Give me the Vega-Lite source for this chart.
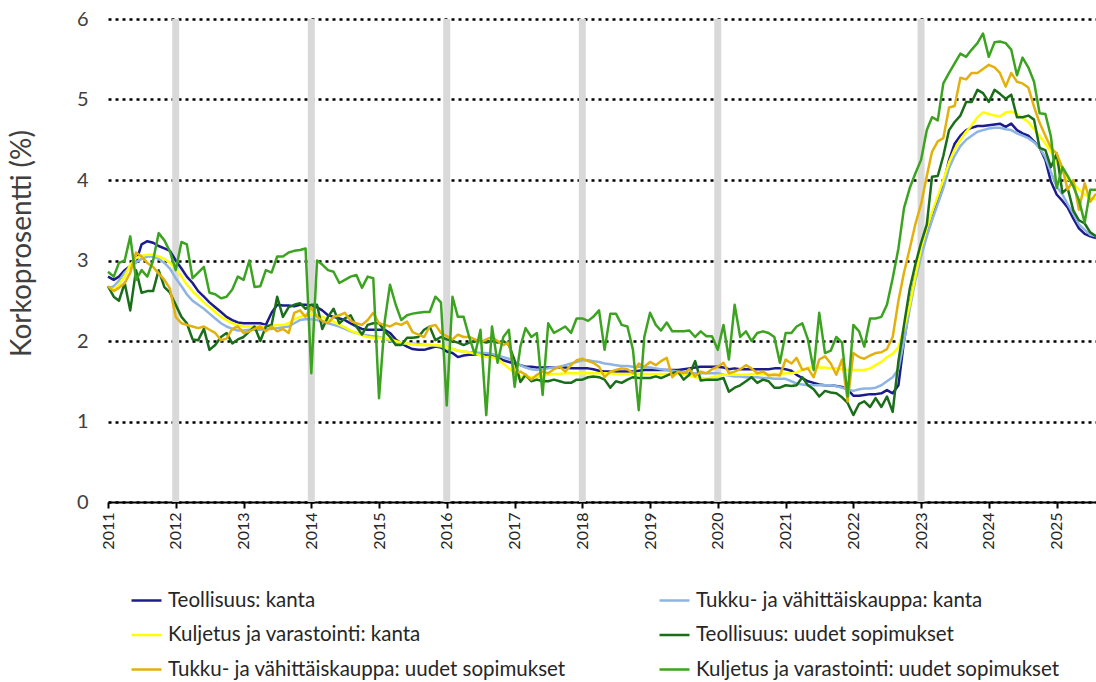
{
"$schema":"https://vega.github.io/schema/vega-lite/v6.json",
"width":988,"height":483,
"autosize":{"type":"none"},
"padding":{"left":108,"top":19,"right":0,"bottom":180},
"background":"white",
"config":{"view":{"stroke":null},"font":"Lato"},
"datasets":{
"bars":[{"t":"2012-01-01"},{"t":"2014-01-01"},{"t":"2016-01-01"},{"t":"2018-01-01"},{"t":"2020-01-01"},{"t":"2023-01-01"}],
"rates":[
{"t":"2011-01-01","a":2.80,"b":2.65,"c":2.66,"d":2.68,"e":2.68,"f":2.86},
{"t":"2011-02-01","a":2.76,"b":2.68,"c":2.64,"d":2.55,"e":2.62,"f":2.80},
{"t":"2011-03-01","a":2.80,"b":2.75,"c":2.70,"d":2.50,"e":2.66,"f":2.97},
{"t":"2011-04-01","a":2.88,"b":2.85,"c":2.80,"d":2.72,"e":2.72,"f":3.00},
{"t":"2011-05-01","a":2.93,"b":2.92,"c":2.95,"d":2.38,"e":2.85,"f":3.30},
{"t":"2011-06-01","a":2.98,"b":2.98,"c":3.03,"d":2.88,"e":3.10,"f":2.76},
{"t":"2011-07-01","a":3.20,"b":3.02,"c":3.06,"d":2.60,"e":3.05,"f":2.88},
{"t":"2011-08-01","a":3.24,"b":3.05,"c":3.07,"d":2.62,"e":2.97,"f":2.80},
{"t":"2011-09-01","a":3.22,"b":3.05,"c":3.07,"d":2.62,"e":2.92,"f":3.00},
{"t":"2011-10-01","a":3.18,"b":3.02,"c":3.05,"d":2.88,"e":2.84,"f":3.34},
{"t":"2011-11-01","a":3.15,"b":2.97,"c":3.02,"d":2.67,"e":2.76,"f":3.25},
{"t":"2011-12-01","a":3.12,"b":2.90,"c":2.97,"d":2.60,"e":2.65,"f":3.11},
{"t":"2012-01-01","a":3.00,"b":2.78,"c":2.90,"d":2.45,"e":2.30,"f":2.88},
{"t":"2012-02-01","a":2.90,"b":2.68,"c":2.80,"d":2.30,"e":2.22,"f":3.23},
{"t":"2012-03-01","a":2.80,"b":2.58,"c":2.70,"d":2.22,"e":2.20,"f":3.20},
{"t":"2012-04-01","a":2.72,"b":2.50,"c":2.62,"d":2.02,"e":2.18,"f":2.78},
{"t":"2012-05-01","a":2.62,"b":2.45,"c":2.55,"d":2.01,"e":2.16,"f":2.85},
{"t":"2012-06-01","a":2.55,"b":2.40,"c":2.48,"d":2.15,"e":2.18,"f":2.92},
{"t":"2012-07-01","a":2.48,"b":2.34,"c":2.42,"d":1.89,"e":2.14,"f":2.60},
{"t":"2012-08-01","a":2.42,"b":2.28,"c":2.36,"d":1.95,"e":2.10,"f":2.58},
{"t":"2012-09-01","a":2.36,"b":2.22,"c":2.30,"d":2.05,"e":2.01,"f":2.53},
{"t":"2012-10-01","a":2.30,"b":2.18,"c":2.26,"d":2.10,"e":2.03,"f":2.55},
{"t":"2012-11-01","a":2.26,"b":2.15,"c":2.22,"d":1.97,"e":2.15,"f":2.64},
{"t":"2012-12-01","a":2.23,"b":2.13,"c":2.20,"d":2.02,"e":2.18,"f":2.80},
{"t":"2013-01-01","a":2.22,"b":2.13,"c":2.18,"d":2.05,"e":2.10,"f":2.76},
{"t":"2013-02-01","a":2.22,"b":2.14,"c":2.18,"d":2.12,"e":2.12,"f":3.00},
{"t":"2013-03-01","a":2.22,"b":2.14,"c":2.18,"d":2.18,"e":2.15,"f":2.67},
{"t":"2013-04-01","a":2.22,"b":2.14,"c":2.18,"d":2.00,"e":2.18,"f":2.68},
{"t":"2013-05-01","a":2.20,"b":2.15,"c":2.18,"d":2.18,"e":2.12,"f":2.88},
{"t":"2013-06-01","a":2.35,"b":2.15,"c":2.19,"d":2.20,"e":2.18,"f":2.85},
{"t":"2013-07-01","a":2.45,"b":2.16,"c":2.20,"d":2.55,"e":2.12,"f":3.05},
{"t":"2013-08-01","a":2.44,"b":2.17,"c":2.20,"d":2.30,"e":2.15,"f":3.05},
{"t":"2013-09-01","a":2.44,"b":2.18,"c":2.22,"d":2.42,"e":2.10,"f":3.10},
{"t":"2013-10-01","a":2.43,"b":2.22,"c":2.27,"d":2.45,"e":2.35,"f":3.12},
{"t":"2013-11-01","a":2.45,"b":2.26,"c":2.30,"d":2.47,"e":2.38,"f":3.13},
{"t":"2013-12-01","a":2.45,"b":2.27,"c":2.32,"d":2.40,"e":2.30,"f":3.15},
{"t":"2014-01-01","a":2.44,"b":2.27,"c":2.34,"d":2.45,"e":2.42,"f":1.60},
{"t":"2014-02-01","a":2.42,"b":2.26,"c":2.32,"d":2.45,"e":2.30,"f":3.00},
{"t":"2014-03-01","a":2.38,"b":2.24,"c":2.30,"d":2.15,"e":2.25,"f":2.95},
{"t":"2014-04-01","a":2.32,"b":2.22,"c":2.27,"d":2.30,"e":2.22,"f":2.88},
{"t":"2014-05-01","a":2.30,"b":2.20,"c":2.24,"d":2.40,"e":2.30,"f":2.86},
{"t":"2014-06-01","a":2.28,"b":2.18,"c":2.20,"d":2.22,"e":2.32,"f":2.72},
{"t":"2014-07-01","a":2.26,"b":2.15,"c":2.17,"d":2.28,"e":2.35,"f":2.76},
{"t":"2014-08-01","a":2.22,"b":2.12,"c":2.13,"d":2.32,"e":2.25,"f":2.80},
{"t":"2014-09-01","a":2.18,"b":2.10,"c":2.10,"d":2.18,"e":2.22,"f":2.82},
{"t":"2014-10-01","a":2.15,"b":2.08,"c":2.07,"d":2.08,"e":2.20,"f":2.66},
{"t":"2014-11-01","a":2.14,"b":2.07,"c":2.05,"d":2.20,"e":2.26,"f":2.80},
{"t":"2014-12-01","a":2.14,"b":2.06,"c":2.04,"d":2.22,"e":2.35,"f":2.78},
{"t":"2015-01-01","a":2.14,"b":2.05,"c":2.04,"d":2.22,"e":2.22,"f":1.29},
{"t":"2015-02-01","a":2.14,"b":2.03,"c":2.03,"d":2.12,"e":2.20,"f":2.25},
{"t":"2015-03-01","a":2.10,"b":2.00,"c":2.02,"d":2.05,"e":2.18,"f":2.70},
{"t":"2015-04-01","a":2.02,"b":1.98,"c":2.00,"d":1.95,"e":2.22,"f":2.45},
{"t":"2015-05-01","a":1.97,"b":1.97,"c":1.98,"d":1.95,"e":2.20,"f":2.26},
{"t":"2015-06-01","a":1.93,"b":1.97,"c":1.97,"d":2.04,"e":2.24,"f":2.32},
{"t":"2015-07-01","a":1.90,"b":1.97,"c":1.96,"d":2.04,"e":2.11,"f":2.34},
{"t":"2015-08-01","a":1.89,"b":1.96,"c":1.95,"d":2.05,"e":2.08,"f":2.35},
{"t":"2015-09-01","a":1.89,"b":1.95,"c":1.95,"d":2.14,"e":2.05,"f":2.36},
{"t":"2015-10-01","a":1.91,"b":1.95,"c":1.95,"d":2.18,"e":2.18,"f":2.36},
{"t":"2015-11-01","a":1.93,"b":1.94,"c":1.95,"d":2.01,"e":2.20,"f":2.55},
{"t":"2015-12-01","a":1.92,"b":1.93,"c":1.94,"d":2.05,"e":2.10,"f":2.48},
{"t":"2016-01-01","a":1.87,"b":1.92,"c":1.92,"d":2.02,"e":2.06,"f":1.20},
{"t":"2016-02-01","a":1.85,"b":1.90,"c":1.90,"d":2.00,"e":2.02,"f":2.55},
{"t":"2016-03-01","a":1.80,"b":1.88,"c":1.88,"d":1.98,"e":2.08,"f":2.30},
{"t":"2016-04-01","a":1.82,"b":1.87,"c":1.87,"d":1.95,"e":2.05,"f":2.30},
{"t":"2016-05-01","a":1.83,"b":1.86,"c":1.86,"d":1.98,"e":2.05,"f":2.05},
{"t":"2016-06-01","a":1.83,"b":1.86,"c":1.84,"d":2.00,"e":2.02,"f":1.83},
{"t":"2016-07-01","a":1.83,"b":1.85,"c":1.82,"d":2.00,"e":1.98,"f":2.14},
{"t":"2016-08-01","a":1.83,"b":1.85,"c":1.80,"d":1.98,"e":2.02,"f":1.08},
{"t":"2016-09-01","a":1.82,"b":1.84,"c":1.80,"d":2.00,"e":2.05,"f":2.18},
{"t":"2016-10-01","a":1.80,"b":1.82,"c":1.78,"d":1.98,"e":2.00,"f":1.73},
{"t":"2016-11-01","a":1.76,"b":1.80,"c":1.72,"d":2.00,"e":1.95,"f":2.05},
{"t":"2016-12-01","a":1.74,"b":1.78,"c":1.66,"d":1.95,"e":1.98,"f":2.14},
{"t":"2017-01-01","a":1.72,"b":1.74,"c":1.60,"d":1.76,"e":1.60,"f":1.43},
{"t":"2017-02-01","a":1.70,"b":1.70,"c":1.56,"d":1.49,"e":1.62,"f":1.93},
{"t":"2017-03-01","a":1.68,"b":1.67,"c":1.55,"d":1.58,"e":1.58,"f":2.16},
{"t":"2017-04-01","a":1.68,"b":1.65,"c":1.55,"d":1.50,"e":1.52,"f":2.05},
{"t":"2017-05-01","a":1.67,"b":1.64,"c":1.55,"d":1.52,"e":1.58,"f":2.10},
{"t":"2017-06-01","a":1.67,"b":1.65,"c":1.57,"d":1.50,"e":1.62,"f":1.33},
{"t":"2017-07-01","a":1.67,"b":1.66,"c":1.58,"d":1.50,"e":1.60,"f":2.22},
{"t":"2017-08-01","a":1.67,"b":1.67,"c":1.59,"d":1.52,"e":1.65,"f":2.10},
{"t":"2017-09-01","a":1.67,"b":1.68,"c":1.59,"d":1.50,"e":1.68,"f":2.14},
{"t":"2017-10-01","a":1.67,"b":1.70,"c":1.60,"d":1.48,"e":1.62,"f":2.18},
{"t":"2017-11-01","a":1.66,"b":1.72,"c":1.60,"d":1.48,"e":1.70,"f":2.10},
{"t":"2017-12-01","a":1.66,"b":1.74,"c":1.60,"d":1.52,"e":1.76,"f":2.28},
{"t":"2018-01-01","a":1.66,"b":1.76,"c":1.60,"d":1.52,"e":1.78,"f":2.28},
{"t":"2018-02-01","a":1.66,"b":1.76,"c":1.60,"d":1.55,"e":1.75,"f":2.25},
{"t":"2018-03-01","a":1.65,"b":1.75,"c":1.60,"d":1.56,"e":1.73,"f":2.30},
{"t":"2018-04-01","a":1.63,"b":1.74,"c":1.60,"d":1.55,"e":1.68,"f":2.38},
{"t":"2018-05-01","a":1.62,"b":1.72,"c":1.60,"d":1.52,"e":1.55,"f":1.89},
{"t":"2018-06-01","a":1.62,"b":1.71,"c":1.60,"d":1.42,"e":1.62,"f":2.34},
{"t":"2018-07-01","a":1.62,"b":1.70,"c":1.59,"d":1.50,"e":1.64,"f":2.34},
{"t":"2018-08-01","a":1.62,"b":1.69,"c":1.59,"d":1.48,"e":1.66,"f":2.20},
{"t":"2018-09-01","a":1.62,"b":1.69,"c":1.59,"d":1.52,"e":1.65,"f":2.18},
{"t":"2018-10-01","a":1.62,"b":1.68,"c":1.59,"d":1.55,"e":1.60,"f":1.89},
{"t":"2018-11-01","a":1.63,"b":1.68,"c":1.59,"d":1.54,"e":1.72,"f":1.14},
{"t":"2018-12-01","a":1.64,"b":1.67,"c":1.59,"d":1.54,"e":1.68,"f":2.05},
{"t":"2019-01-01","a":1.64,"b":1.67,"c":1.59,"d":1.54,"e":1.74,"f":2.35},
{"t":"2019-02-01","a":1.64,"b":1.66,"c":1.59,"d":1.56,"e":1.70,"f":2.20},
{"t":"2019-03-01","a":1.64,"b":1.65,"c":1.59,"d":1.54,"e":1.75,"f":2.13},
{"t":"2019-04-01","a":1.64,"b":1.64,"c":1.59,"d":1.57,"e":1.79,"f":2.23},
{"t":"2019-05-01","a":1.64,"b":1.63,"c":1.59,"d":1.60,"e":1.55,"f":2.12},
{"t":"2019-06-01","a":1.64,"b":1.62,"c":1.59,"d":1.62,"e":1.62,"f":2.12},
{"t":"2019-07-01","a":1.65,"b":1.61,"c":1.58,"d":1.52,"e":1.60,"f":2.12},
{"t":"2019-08-01","a":1.66,"b":1.60,"c":1.57,"d":1.58,"e":1.65,"f":2.13},
{"t":"2019-09-01","a":1.67,"b":1.60,"c":1.55,"d":1.75,"e":1.56,"f":2.05},
{"t":"2019-10-01","a":1.68,"b":1.60,"c":1.54,"d":1.51,"e":1.62,"f":2.12},
{"t":"2019-11-01","a":1.68,"b":1.60,"c":1.53,"d":1.52,"e":1.60,"f":2.06},
{"t":"2019-12-01","a":1.68,"b":1.60,"c":1.55,"d":1.52,"e":1.65,"f":2.06},
{"t":"2020-01-01","a":1.68,"b":1.60,"c":1.57,"d":1.52,"e":1.68,"f":1.89},
{"t":"2020-02-01","a":1.67,"b":1.58,"c":1.58,"d":1.54,"e":1.73,"f":2.20},
{"t":"2020-03-01","a":1.65,"b":1.57,"c":1.58,"d":1.37,"e":1.60,"f":1.77},
{"t":"2020-04-01","a":1.66,"b":1.56,"c":1.58,"d":1.42,"e":1.62,"f":2.45},
{"t":"2020-05-01","a":1.65,"b":1.56,"c":1.58,"d":1.45,"e":1.65,"f":2.05},
{"t":"2020-06-01","a":1.65,"b":1.55,"c":1.58,"d":1.50,"e":1.70,"f":2.12},
{"t":"2020-07-01","a":1.65,"b":1.55,"c":1.59,"d":1.55,"e":1.66,"f":2.00},
{"t":"2020-08-01","a":1.65,"b":1.55,"c":1.59,"d":1.48,"e":1.60,"f":2.10},
{"t":"2020-09-01","a":1.65,"b":1.54,"c":1.59,"d":1.52,"e":1.62,"f":2.12},
{"t":"2020-10-01","a":1.65,"b":1.54,"c":1.59,"d":1.50,"e":1.57,"f":2.10},
{"t":"2020-11-01","a":1.66,"b":1.53,"c":1.59,"d":1.42,"e":1.58,"f":2.05},
{"t":"2020-12-01","a":1.66,"b":1.53,"c":1.59,"d":1.42,"e":1.57,"f":1.73},
{"t":"2021-01-01","a":1.65,"b":1.53,"c":1.60,"d":1.45,"e":1.77,"f":2.10},
{"t":"2021-02-01","a":1.63,"b":1.50,"c":1.60,"d":1.44,"e":1.72,"f":2.10},
{"t":"2021-03-01","a":1.58,"b":1.47,"c":1.61,"d":1.45,"e":1.79,"f":2.18},
{"t":"2021-04-01","a":1.54,"b":1.46,"c":1.64,"d":1.55,"e":1.64,"f":2.22},
{"t":"2021-05-01","a":1.50,"b":1.45,"c":1.67,"d":1.45,"e":1.66,"f":2.02},
{"t":"2021-06-01","a":1.48,"b":1.45,"c":1.67,"d":1.40,"e":1.55,"f":1.64},
{"t":"2021-07-01","a":1.46,"b":1.45,"c":1.67,"d":1.31,"e":1.77,"f":2.35},
{"t":"2021-08-01","a":1.45,"b":1.45,"c":1.67,"d":1.38,"e":1.81,"f":1.85},
{"t":"2021-09-01","a":1.45,"b":1.45,"c":1.66,"d":1.36,"e":1.72,"f":1.88},
{"t":"2021-10-01","a":1.44,"b":1.44,"c":1.66,"d":1.35,"e":1.58,"f":2.05},
{"t":"2021-11-01","a":1.43,"b":1.42,"c":1.65,"d":1.30,"e":1.77,"f":1.98},
{"t":"2021-12-01","a":1.40,"b":1.40,"c":1.64,"d":1.23,"e":1.25,"f":1.31},
{"t":"2022-01-01","a":1.32,"b":1.38,"c":1.64,"d":1.08,"e":1.85,"f":2.20},
{"t":"2022-02-01","a":1.32,"b":1.40,"c":1.64,"d":1.22,"e":1.80,"f":2.12},
{"t":"2022-03-01","a":1.33,"b":1.41,"c":1.64,"d":1.25,"e":1.78,"f":1.93},
{"t":"2022-04-01","a":1.34,"b":1.41,"c":1.66,"d":1.18,"e":1.82,"f":2.28},
{"t":"2022-05-01","a":1.34,"b":1.42,"c":1.70,"d":1.29,"e":1.85,"f":2.28},
{"t":"2022-06-01","a":1.35,"b":1.45,"c":1.74,"d":1.18,"e":1.86,"f":2.30},
{"t":"2022-07-01","a":1.39,"b":1.50,"c":1.80,"d":1.31,"e":1.90,"f":2.45},
{"t":"2022-08-01","a":1.35,"b":1.55,"c":1.84,"d":1.12,"e":2.05,"f":2.78},
{"t":"2022-09-01","a":1.45,"b":1.65,"c":1.92,"d":1.75,"e":2.50,"f":3.15},
{"t":"2022-10-01","a":2.00,"b":2.00,"c":2.15,"d":2.20,"e":2.85,"f":3.65},
{"t":"2022-11-01","a":2.45,"b":2.40,"c":2.45,"d":2.65,"e":3.15,"f":3.90},
{"t":"2022-12-01","a":2.80,"b":2.75,"c":2.80,"d":2.95,"e":3.45,"f":4.08},
{"t":"2023-01-01","a":3.10,"b":3.05,"c":3.15,"d":3.22,"e":3.70,"f":4.25},
{"t":"2023-02-01","a":3.35,"b":3.30,"c":3.40,"d":3.45,"e":4.05,"f":4.62},
{"t":"2023-03-01","a":3.55,"b":3.50,"c":3.60,"d":4.04,"e":4.35,"f":4.78},
{"t":"2023-04-01","a":3.75,"b":3.70,"c":3.80,"d":4.05,"e":4.48,"f":4.74},
{"t":"2023-05-01","a":3.95,"b":3.90,"c":4.00,"d":4.30,"e":4.52,"f":5.20},
{"t":"2023-06-01","a":4.25,"b":4.15,"c":4.22,"d":4.62,"e":4.90,"f":5.33},
{"t":"2023-07-01","a":4.45,"b":4.30,"c":4.38,"d":4.72,"e":4.92,"f":5.45},
{"t":"2023-08-01","a":4.55,"b":4.42,"c":4.50,"d":4.80,"e":5.27,"f":5.57},
{"t":"2023-09-01","a":4.62,"b":4.50,"c":4.60,"d":4.97,"e":5.25,"f":5.53},
{"t":"2023-10-01","a":4.65,"b":4.55,"c":4.68,"d":4.97,"e":5.33,"f":5.62},
{"t":"2023-11-01","a":4.67,"b":4.60,"c":4.78,"d":5.12,"e":5.33,"f":5.70},
{"t":"2023-12-01","a":4.67,"b":4.62,"c":4.84,"d":5.08,"e":5.38,"f":5.82},
{"t":"2024-01-01","a":4.68,"b":4.64,"c":4.82,"d":4.97,"e":5.43,"f":5.53},
{"t":"2024-02-01","a":4.69,"b":4.65,"c":4.80,"d":5.12,"e":5.40,"f":5.71},
{"t":"2024-03-01","a":4.70,"b":4.65,"c":4.79,"d":5.07,"e":5.33,"f":5.72},
{"t":"2024-04-01","a":4.66,"b":4.63,"c":4.84,"d":5.01,"e":5.16,"f":5.70},
{"t":"2024-05-01","a":4.70,"b":4.62,"c":4.85,"d":5.06,"e":5.33,"f":5.62},
{"t":"2024-06-01","a":4.62,"b":4.58,"c":4.82,"d":4.78,"e":5.22,"f":5.30},
{"t":"2024-07-01","a":4.58,"b":4.55,"c":4.77,"d":4.78,"e":5.20,"f":5.52},
{"t":"2024-08-01","a":4.55,"b":4.52,"c":4.72,"d":4.80,"e":5.15,"f":5.40},
{"t":"2024-09-01","a":4.48,"b":4.47,"c":4.63,"d":4.75,"e":4.91,"f":5.22},
{"t":"2024-10-01","a":4.40,"b":4.40,"c":4.55,"d":4.40,"e":4.71,"f":4.83},
{"t":"2024-11-01","a":4.25,"b":4.28,"c":4.45,"d":4.37,"e":4.55,"f":4.82},
{"t":"2024-12-01","a":3.98,"b":4.10,"c":4.35,"d":4.16,"e":4.40,"f":4.54},
{"t":"2025-01-01","a":3.82,"b":3.92,"c":4.22,"d":4.33,"e":4.33,"f":3.90},
{"t":"2025-02-01","a":3.74,"b":3.82,"c":4.12,"d":3.84,"e":4.15,"f":4.16},
{"t":"2025-03-01","a":3.66,"b":3.70,"c":4.02,"d":3.90,"e":3.88,"f":4.05},
{"t":"2025-04-01","a":3.52,"b":3.58,"c":3.95,"d":3.62,"e":4.00,"f":3.92},
{"t":"2025-05-01","a":3.40,"b":3.45,"c":3.88,"d":3.50,"e":3.63,"f":3.75},
{"t":"2025-06-01","a":3.33,"b":3.38,"c":3.82,"d":3.46,"e":3.96,"f":3.47},
{"t":"2025-07-01","a":3.30,"b":3.32,"c":3.78,"d":3.35,"e":3.73,"f":3.88},
{"t":"2025-08-01","a":3.28,"b":3.30,"c":3.76,"d":3.30,"e":3.83,"f":3.88}
]},
"layer":[
{"data":{"name":"bars"},
 "mark":{"type":"rule","color":"#d9d9d9","strokeWidth":7},
 "encoding":{"x":{"field":"t","type":"temporal"}}},
{"data":{"name":"rates"},
 "transform":[{"fold":["a","b","c","d","e","f"],"as":["s","v"]}],
 "mark":{"type":"line","strokeWidth":2.5,"strokeJoin":"round"},
 "encoding":{
  "x":{"field":"t","type":"temporal",
   "scale":{"type":"utc","domain":[{"year":2011,"month":1,"date":1,"utc":true},{"year":2025,"month":8,"date":1,"utc":true}]},
   "axis":{"title":null,"format":"%Y","formatType":"utc","tickCount":{"interval":"year","step":1},
    "labelAngle":-90,"labelFontSize":16,"labelColor":"#262626","labelPadding":4,
    "domainColor":"#000000","domainWidth":2,"tickColor":"#000000","tickWidth":2,"tickSize":6,"grid":false,"labelFlush":false,"labelOverlap":false}},
  "y":{"field":"v","type":"quantitative",
   "scale":{"domain":[0,6],"nice":false,"zero":true},
   "axis":{"title":"Korkoprosentti (%)","titleFontSize":28,"titleFontWeight":"normal","titleColor":"#404040",
    "titleX":-86,"titleY":224,"titleBaseline":"middle","titleAlign":"center","titleAngle":-90,
    "values":[0,1,2,3,4,5,6],"labelFontSize":20,"labelColor":"#404040","labelPadding":20,
    "ticks":false,"domain":false,"grid":true,"gridColor":"#000000","gridWidth":2.5,"gridDash":[3,4]}},
  "color":{"field":"s","type":"nominal",
   "scale":{"domain":["a","c","e","b","d","f"],"range":["#1c1c8c","#ffff00","#e2b10c","#8eb4e3","#1a6e1a","#3ca321"]},
   "legend":{"orient":"none","legendX":22,"legendY":565,"columns":2,"columnPadding":88,"rowPadding":7.5,
    "symbolType":"stroke","symbolSize":900,"symbolStrokeWidth":2.5,"labelFontSize":20.5,"labelLimit":600,
    "labelOffset":5,"labelColor":"#262626","title":null,
    "labelExpr":"datum.value=='a'?'Teollisuus: kanta':datum.value=='b'?'Tukku- ja vähittäiskauppa: kanta':datum.value=='c'?'Kuljetus ja varastointi: kanta':datum.value=='d'?'Teollisuus: uudet sopimukset':datum.value=='e'?'Tukku- ja vähittäiskauppa: uudet sopimukset':'Kuljetus ja varastointi: uudet sopimukset'"}}
 }}
]
}
